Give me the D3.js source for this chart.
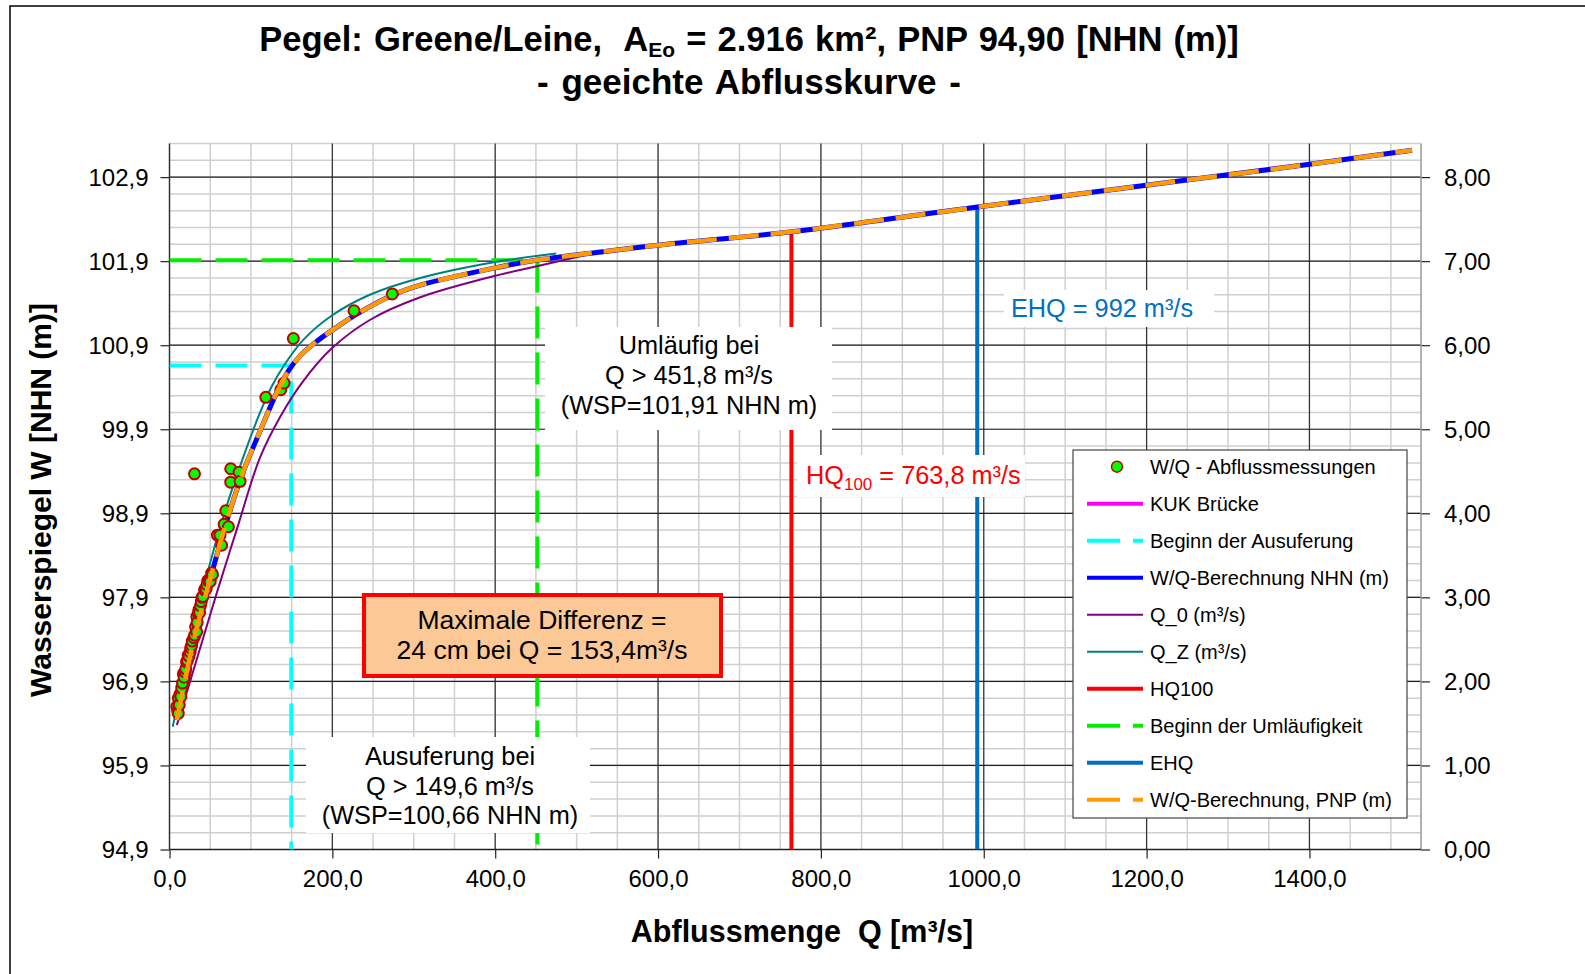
<!DOCTYPE html>
<html>
<head>
<meta charset="utf-8">
<script src="https://cdn.jsdelivr.net/npm/d3@7"></script>
<style>
    body { margin: 0; background: #fff; }
    svg { display: block; font-family: "Liberation Sans", Arial, sans-serif; }
    text { white-space: pre; }
</style>
</head>
<body>
<svg id="chart" width="1585" height="974"></svg>
<script>
// W/Q - Abflussmessungen
const measQ = [9, 10, 10.8, 11, 12, 13, 14, 15, 16, 17, 18, 19.3, 20, 21, 22, 23, 24, 25.4, 26, 27.2, 28, 30, 31, 32,
               33.4, 33.6, 34, 35.6, 36, 37, 38, 39, 40, 41, 43, 44, 45, 46, 47, 49, 50,
               51.8, 52.8, 58.9, 62, 64, 67.1, 69.2, 72.4, 75.2, 75.2, 85.5, 86.7, 30.7, 118.3, 136.7, 140.7, 152.1, 226.6, 273.6];
const measW = [96.6, 96.55, 96.52, 96.7, 96.62, 96.75, 96.72, 96.82, 96.88, 96.99, 96.95, 97.01, 97.05, 97.13, 97.15, 97.21, 97.2, 97.25, 97.3, 97.33, 97.38, 97.42, 97.45, 97.55,
               97.49, 97.67, 97.6, 97.71, 97.75, 97.72, 97.8, 97.85, 97.9, 97.91, 97.99, 98.0, 98.0, 98.05, 98.1, 98.11, 98.09,
               98.19, 98.17, 98.64, 98.64, 98.52, 98.77, 98.93, 98.74, 99.43, 99.27, 99.39, 99.28, 99.37, 100.28, 100.37, 100.45, 100.98, 101.31, 101.51];

// W/Q-Berechnung (NHN und PNP liegen aufeinander)
const calcQ = [9, 30, 50, 70, 90, 110, 130, 145, 160, 180, 200, 230, 275, 310, 400, 450, 530, 600, 764, 897, 997, 1197, 1398, 1526];
const calcW = [96.44, 97.4, 98.12, 98.8, 99.38, 99.85, 100.3, 100.58, 100.77, 100.94, 101.08, 101.27, 101.5, 101.62, 101.82, 101.91, 102.01, 102.09, 102.25, 102.42, 102.55, 102.8, 103.05, 103.22];

// Q_0 und Q_Z
const q0Q = [9, 30, 58, 84, 111, 136, 164, 199, 246, 308, 406, 447, 528];
const q0W = [96.38, 97.05, 97.95, 98.75, 99.56, 100.05, 100.47, 100.86, 101.2, 101.47, 101.74, 101.83, 102.01];
const qzQ = [4, 20, 42, 70, 97, 110, 125, 140, 164, 199, 246, 308, 400, 475];
const qzW = [96.36, 97.1, 98.02, 98.98, 99.74, 100.07, 100.4, 100.65, 100.96, 101.25, 101.5, 101.7, 101.89, 101.99];

// Kennwerte
const ausuferQ = 149.6, ausuferW = 100.66;
const umlaufQ = 451.8, umlaufW = 101.91;
const hq100Q = 763.8, hq100W = 102.25;
const ehqQ = 992, ehqW = 102.53;
const pnp = 94.9;

// Achsen
const xTicks = [0, 200, 400, 600, 800, 1000, 1200, 1400];
const yTicks = [94.9, 95.9, 96.9, 97.9, 98.9, 99.9, 100.9, 101.9, 102.9];
const y2Ticks = [0, 1, 2, 3, 4, 5, 6, 7, 8];

const svg = d3.select("#chart");
const pLeft = 169.5, pRight = 1421, pTop = 143.5, pBottom = 849.5;

const x = d3.scaleLinear().domain([0, 1537]).range([pLeft, pRight]);
const y = d3.scaleLinear().domain([94.9, 103.3]).range([pBottom, pTop]);
const y2 = d3.scaleLinear().domain([0, 8.4]).range([pBottom, pTop]);

const comma = f => d => d3.format(f)(d).replace(".", ",");

// Rahmen
svg.append("rect").attr("width", 1585).attr("height", 974).attr("fill", "#fff");
svg.append("rect")
    .attr("x", 10).attr("y", 6).attr("width", 1620).attr("height", 1000)
    .attr("fill", "none").attr("stroke", "#000").attr("stroke-width", 1.5);

// Gitter
const grid = svg.append("g");
grid.selectAll(".vmin").data(d3.range(50, 1537, 50))
    .join("line")
    .attr("x1", d => x(d)).attr("x2", d => x(d))
    .attr("y1", pTop).attr("y2", pBottom)
    .attr("stroke", "#cfcfcf").attr("stroke-width", 1.5);
grid.selectAll(".hmin").data(d3.range(0, 42).map(i => 94.9 + i * 0.2 + 0.2))
    .join("line")
    .attr("x1", pLeft).attr("x2", pRight)
    .attr("y1", d => y(d)).attr("y2", d => y(d))
    .attr("stroke", "#cfcfcf").attr("stroke-width", 1.5);
grid.selectAll(".vmaj").data(xTicks.slice(1))
    .join("line")
    .attr("x1", d => x(d)).attr("x2", d => x(d))
    .attr("y1", pTop).attr("y2", pBottom)
    .attr("stroke", "#333").attr("stroke-width", 1.2);
grid.selectAll(".hmaj").data(yTicks.slice(1))
    .join("line")
    .attr("x1", pLeft).attr("x2", pRight)
    .attr("y1", d => y(d)).attr("y2", d => y(d))
    .attr("stroke", "#222").attr("stroke-width", 1.2);

// Achsen
const axisStyle = g => {
    g.select(".domain").remove();
    g.selectAll(".tick line").attr("stroke", "#222").attr("stroke-width", 1.2);
    g.selectAll("text").attr("font-size", 24).attr("fill", "#000")
        .attr("font-family", "\"Liberation Sans\", Arial, sans-serif");
};
svg.append("g").attr("transform", `translate(${pLeft},0)`)
    .call(d3.axisLeft(y).tickValues(yTicks).tickFormat(comma(".1f")).tickSize(9).tickPadding(12).tickSizeOuter(0))
    .call(axisStyle)
    .selectAll("text").attr("dy", "0.35em");
svg.append("g").attr("transform", `translate(${pRight},0)`)
    .call(d3.axisRight(y2).tickValues(y2Ticks).tickFormat(comma(".2f")).tickSize(9).tickPadding(14).tickSizeOuter(0))
    .call(axisStyle)
    .selectAll("text").attr("dy", "0.35em");
svg.append("g").attr("transform", `translate(0,${pBottom})`)
    .call(d3.axisBottom(x).tickValues(xTicks).tickFormat(comma(".1f")).tickSize(9).tickPadding(11).tickSizeOuter(0))
    .call(axisStyle);

svg.append("line").attr("x1", pLeft).attr("x2", pLeft).attr("y1", pTop).attr("y2", pBottom)
    .attr("stroke", "#333").attr("stroke-width", 1.5);
svg.append("line").attr("x1", pRight).attr("x2", pRight).attr("y1", pTop).attr("y2", pBottom)
    .attr("stroke", "#999").attr("stroke-width", 1.5);
svg.append("line").attr("x1", pLeft).attr("x2", pRight).attr("y1", pBottom).attr("y2", pBottom)
    .attr("stroke", "#222").attr("stroke-width", 1.5);

// Datenreihen
svg.append("clipPath").attr("id", "plotclip")
    .append("rect").attr("x", pLeft).attr("y", pTop - 10).attr("width", pRight - pLeft).attr("height", pBottom - pTop + 10);
const plot = svg.append("g").attr("clip-path", "url(#plotclip)");

const pairs = (qs, ws) => qs.map((q, i) => [q, ws[i]]);
const curve = d3.line().x(d => x(d[0])).y(d => y(d[1])).curve(d3.curveCatmullRom.alpha(0.5));
const straight = d3.line().x(d => x(d[0])).y(d => y(d[1]));

plot.append("path")
    .attr("d", straight([[0, ausuferW], [ausuferQ, ausuferW], [ausuferQ, pnp]]))
    .attr("fill", "none").attr("stroke", "#00ffff").attr("stroke-width", 4).attr("stroke-dasharray", "32,14");
plot.append("path")
    .attr("d", straight([[0, umlaufW], [umlaufQ, umlaufW], [umlaufQ, pnp]]))
    .attr("fill", "none").attr("stroke", "#00ee00").attr("stroke-width", 4).attr("stroke-dasharray", "32,14");
plot.append("path")
    .attr("d", straight([[hq100Q, pnp], [hq100Q, hq100W]]))
    .attr("fill", "none").attr("stroke", "#ff0000").attr("stroke-width", 4);
plot.append("path")
    .attr("d", straight([[ehqQ, pnp], [ehqQ, ehqW]]))
    .attr("fill", "none").attr("stroke", "#0070c0").attr("stroke-width", 4);

plot.append("path").attr("d", curve(pairs(q0Q, q0W)))
    .attr("fill", "none").attr("stroke", "#800080").attr("stroke-width", 2);
plot.append("path").attr("d", curve(pairs(qzQ, qzW)))
    .attr("fill", "none").attr("stroke", "#008080").attr("stroke-width", 2);
plot.append("path").attr("d", curve(pairs(calcQ, calcW)))
    .attr("fill", "none").attr("stroke", "#0000ff").attr("stroke-width", 5);

plot.selectAll(".meas").data(pairs(measQ, measW))
    .join("circle")
    .attr("cx", d => x(d[0])).attr("cy", d => y(d[1])).attr("r", 5.5)
    .attr("fill", "#00ff00").attr("stroke", "#c00000").attr("stroke-width", 2);

plot.append("path").attr("d", curve(pairs(calcQ, calcW)))
    .attr("fill", "none").attr("stroke", "#ff9a00").attr("stroke-width", 4.5).attr("stroke-dasharray", "30,12");

// Beschriftungen
function labelBox(bx, by, bw, bh, lines, cx, cy0, step, color, size) {
    svg.append("rect").attr("x", bx).attr("y", by).attr("width", bw).attr("height", bh).attr("fill", "#fff");
    lines.forEach((t, i) => {
        svg.append("text").text(t)
            .attr("x", cx).attr("y", cy0 + i * step).attr("dy", "0.35em")
            .attr("text-anchor", "middle").attr("font-size", size).attr("fill", color);
    });
}
labelBox(545, 327, 287, 103, ["Umläufig bei", "Q > 451,8 m³/s", "(WSP=101,91 NHN m)"], 689, 345.5, 30, "#000", 25.3);
labelBox(306, 737, 284, 96, ["Ausuferung bei", "Q > 149,6 m³/s", "(WSP=100,66 NHN m)"], 450, 756.5, 29.5, "#000", 25.3);
labelBox(1004, 290, 210, 37, ["EHQ = 992 m³/s"], 1102, 308, 0, "#0070c0", 25.3);

svg.append("rect").attr("x", 797).attr("y", 455).attr("width", 228).attr("height", 42).attr("fill", "#fff");
const hqText = svg.append("text").attr("x", 806).attr("y", 484).attr("font-size", 25.3).attr("fill", "#ff0000");
hqText.append("tspan").text("HQ");
hqText.append("tspan").text("100").attr("font-size", 17).attr("dy", 6);
hqText.append("tspan").text(" = 763,8 m³/s").attr("dy", -6);

svg.append("rect").attr("x", 364).attr("y", 595).attr("width", 357).attr("height", 81)
    .attr("fill", "#fcc896").attr("stroke", "#ff0000").attr("stroke-width", 4);
["Maximale Differenz =", "24 cm bei Q = 153,4m³/s"].forEach((t, i) => {
    svg.append("text").text(t)
        .attr("x", 542).attr("y", 619.5 + i * 30.5).attr("dy", "0.35em")
        .attr("text-anchor", "middle").attr("font-size", 26.5).attr("fill", "#000");
});

// Titel
const title = svg.append("text").attr("x", 749).attr("y", 51)
    .attr("text-anchor", "middle").attr("font-size", 34.5).attr("font-weight", "bold")
    .attr("word-spacing", 1.6);
title.append("tspan").text("Pegel: Greene/Leine,  A");
title.append("tspan").text("Eo").attr("font-size", 21).attr("dy", 6);
title.append("tspan").text(" = 2.916 km², PNP 94,90 [NHN (m)]").attr("dy", -6);
svg.append("text").text("- geeichte Abflusskurve -")
    .attr("x", 749).attr("y", 94)
    .attr("text-anchor", "middle").attr("font-size", 35).attr("font-weight", "bold")
    .attr("word-spacing", 3);

svg.append("text").text("Abflussmenge  Q [m³/s]")
    .attr("x", 802).attr("y", 942)
    .attr("text-anchor", "middle").attr("font-size", 30.5).attr("font-weight", "bold");
svg.append("text").text("Wasserspiegel W [NHN (m)]")
    .attr("transform", "translate(51,500) rotate(-90)")
    .attr("text-anchor", "middle").attr("font-size", 30).attr("font-weight", "bold");

// Legende
const legendItems = [
    { name: "W/Q - Abflussmessungen", type: "dot" },
    { name: "KUK Brücke", color: "#ff00ff", width: 4 },
    { name: "Beginn der Ausuferung", color: "#00ffff", width: 4, dash: "33,13" },
    { name: "W/Q-Berechnung NHN (m)", color: "#0000ff", width: 4 },
    { name: "Q_0 (m³/s)", color: "#800080", width: 2 },
    { name: "Q_Z (m³/s)", color: "#008080", width: 2 },
    { name: "HQ100", color: "#ff0000", width: 4 },
    { name: "Beginn der Umläufigkeit", color: "#00ee00", width: 4, dash: "33,13" },
    { name: "EHQ", color: "#0070c0", width: 4 },
    { name: "W/Q-Berechnung, PNP (m)", color: "#ff9a00", width: 4, dash: "33,13" }
];
const legend = svg.append("g").attr("transform", "translate(1073,450)");
legend.append("rect").attr("width", 334).attr("height", 368)
    .attr("fill", "#fff").attr("stroke", "#444").attr("stroke-width", 1.2);
const rows = legend.selectAll(".row").data(legendItems).join("g")
    .attr("transform", (d, i) => `translate(0,${16.7 + i * 37})`);
rows.each(function (d) {
    const g = d3.select(this);
    if (d.type === "dot") {
        g.append("circle").attr("cx", 44).attr("cy", 0).attr("r", 5.5)
            .attr("fill", "#00ff00").attr("stroke", "#c00000").attr("stroke-width", 1.5);
    } else {
        g.append("line").attr("x1", 14).attr("x2", 70).attr("y1", 0).attr("y2", 0)
            .attr("stroke", d.color).attr("stroke-width", d.width)
            .attr("stroke-dasharray", d.dash || null);
    }
    g.append("text").text(d.name).attr("x", 77).attr("dy", "0.35em")
        .attr("font-size", 20).attr("fill", "#000");
});
</script>
</body>
</html>
